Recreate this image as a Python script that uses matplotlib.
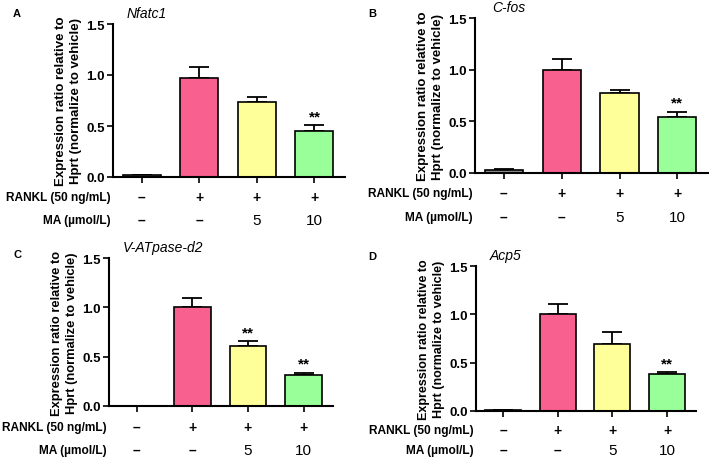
import matplotlib.pyplot as plt

plt.rcParams['font.family'] = ['Liberation Sans', 'DejaVu Sans']

genes = ['Nfatc1', 'C-fos', 'V-ATpase-d2', 'Acp5']
letters = ['A', 'B', 'C', 'D']
rankl = ['–', '+', '+', '+']
ma = ['–', '–', '5', '10']

means = [
    [0.015, 0.97, 0.74, 0.45],
    [0.03, 1.00, 0.775, 0.545],
    [0.0, 1.00, 0.613, 0.31],
    [0.01, 1.00, 0.697, 0.38],
]
errs = [
    [0.003, 0.105, 0.04, 0.055],
    [0.005, 0.10, 0.025, 0.045],
    [0.0, 0.09, 0.045, 0.027],
    [0.003, 0.11, 0.12, 0.02],
]
stars = [
    ['', '', '', '**'],
    ['', '', '', '**'],
    ['', '', '**', '**'],
    ['', '', '', '**'],
]
colors = ['#8c8c8c', '#f7608f', '#ffff99', '#99ff99']

W, H = 709, 460
# left px, right px, top px, bottom px
boxes = [(113, 345, 25, 178), (475, 708, 19, 174),
         (109, 333, 259, 407), (476, 696, 267, 412)]
# row offsets below the axis (pixels)
rows = [(-20, -43), (-20, -44), (-21, -44), (-19, -39)]
title_dx = [14, 17, 14, 14]
ylab_size = [9.5, 9.5, 9.3, 9.0]
letter_px = [(13, 14), (368, 14), (13, 255), (368, 257)]

fig = plt.figure(figsize=(W / 100, H / 100), dpi=100)

for i in range(4):
    l, r, t, b = boxes[i]
    ax = fig.add_axes([l / W, 1 - b / H, (r - l) / W, (b - t) / H])
    x = range(4)
    ax.bar(x, means[i], width=0.66, color=colors, edgecolor='black', linewidth=1.2, zorder=2)
    ax.errorbar(x, means[i], yerr=[[0] * 4, errs[i]], fmt='none', ecolor='black',
                elinewidth=1.3, capsize=7.5, capthick=1.3, zorder=1)
    for j in range(4):
        if stars[i][j]:
            ax.text(j, means[i][j] + errs[i][j] + 0.02, stars[i][j], ha='center', va='bottom',
                    fontsize=11, fontweight='bold')
    ax.set_xlim(-0.5, 3.53)
    ax.set_ylim(0, 1.5)
    ax.set_yticks([0, 0.5, 1.0, 1.5])
    ax.set_yticklabels(['0.0', '0.5', '1.0', '1.5'], fontsize=9.5, fontweight='bold')
    ax.set_xticks(list(x))
    ax.set_xticklabels([])
    ax.tick_params(direction='out', length=4, width=1.2, pad=2)
    for s in ['top', 'right']:
        ax.spines[s].set_visible(False)
    for s in ['left', 'bottom']:
        ax.spines[s].set_linewidth(1.5)
    ax.set_ylabel('Expression ratio relative to\nHprt (normalize to vehicle)',
                  fontsize=ylab_size[i], fontweight='bold', linespacing=1.35, labelpad=3)
    ax.annotate(genes[i], xy=(0, 1), xycoords='axes fraction', xytext=(title_dx[i], 11),
                textcoords='offset pixels', ha='left', va='center', fontsize=10, style='italic')
    fig.text(letter_px[i][0] / W, 1 - letter_px[i][1] / H, letters[i], fontsize=8,
             fontweight='bold', ha='left', va='center')
    for j in range(4):
        ax.annotate(rankl[j], xy=(j, 0), xycoords=('data', 'axes fraction'),
                    xytext=(0, rows[i][0]), textcoords='offset pixels', ha='center', va='center',
                    fontsize=10, fontweight='bold')
        ax.annotate(ma[j], xy=(j, 0), xycoords=('data', 'axes fraction'),
                    xytext=(0, rows[i][1]), textcoords='offset pixels', ha='center', va='center',
                    fontsize=11 if ma[j] != '–' else 10,
                    fontweight='bold' if ma[j] == '–' else 'normal')
    ax.annotate('RANKL (50 ng/mL)', xy=(0, 0), xycoords='axes fraction',
                xytext=(-2, rows[i][0]), textcoords='offset pixels', ha='right', va='center',
                fontsize=8.6, fontweight='bold')
    ax.annotate('MA (µmol/L)', xy=(0, 0), xycoords='axes fraction',
                xytext=(-2, rows[i][1]), textcoords='offset pixels', ha='right', va='center',
                fontsize=8.6, fontweight='bold')

fig.savefig('out.png', dpi=100)
